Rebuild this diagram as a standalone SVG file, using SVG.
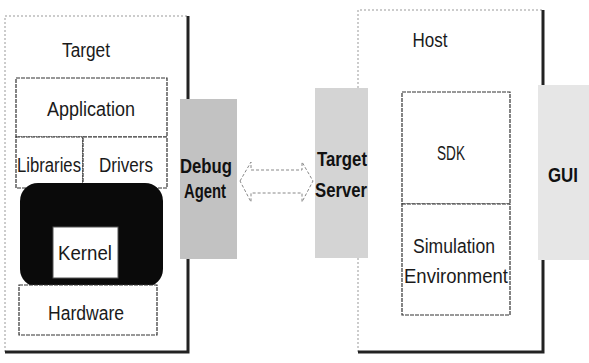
<svg xmlns="http://www.w3.org/2000/svg" width="589" height="363" viewBox="0 0 589 363">
  <style>
    .lbl { font-family: "Liberation Sans", Arial, sans-serif; font-size: 20px; fill: #1a1a1a; text-anchor: middle; }
    .bold { font-weight: bold; fill: #111; }
    .faint { fill: none; stroke: #999; stroke-width: 1; stroke-dasharray: 2 2; }
    .shadow { fill: none; stroke: #222; stroke-width: 3; }
    .cell { fill: #fff; stroke: #333; stroke-width: 1.2; stroke-dasharray: 4 1; }
    .agent { fill: #c2c2c2; }
    .server { fill: #d4d4d4; }
    .gui { fill: #e6e6e6; }
    .link { fill: none; stroke: #888; stroke-width: 1; stroke-dasharray: 3 2; }
  </style>
  <rect width="589" height="363" fill="#fff"/>

  <!-- Target machine frame -->
  <g id="target">
    <path class="faint" d="M5 352 V16 H188"/>
    <path class="shadow" d="M188 16 V352 H5"/>
    <text class="lbl" x="86" y="57" textLength="48" lengthAdjust="spacingAndGlyphs">Target</text>
  </g>

  <g id="application">
    <rect class="cell" x="16" y="78" width="151" height="59"/>
    <text class="lbl" x="91" y="116" textLength="88" lengthAdjust="spacingAndGlyphs">Application</text>
  </g>

  <g id="libraries">
    <rect class="cell" x="16" y="137" width="67" height="51"/>
    <text class="lbl" x="49" y="172" textLength="64" lengthAdjust="spacingAndGlyphs">Libraries</text>
  </g>

  <g id="drivers">
    <rect class="cell" x="83" y="137" width="84" height="51"/>
    <text class="lbl" x="126" y="172" textLength="54" lengthAdjust="spacingAndGlyphs">Drivers</text>
  </g>

  <g id="kernel">
    <rect x="20" y="183" width="143" height="104" rx="18" fill="#0a0a0a"/>
    <rect x="53" y="227" width="65" height="51" fill="#fff" stroke="#555" stroke-width="1"/>
    <text class="lbl" x="85" y="260" textLength="54" lengthAdjust="spacingAndGlyphs">Kernel</text>
  </g>

  <g id="hardware">
    <rect class="cell" x="19" y="285" width="138" height="50"/>
    <text class="lbl" x="86" y="320" textLength="76" lengthAdjust="spacingAndGlyphs">Hardware</text>
  </g>

  <g id="debug-agent">
    <rect class="agent" x="180" y="99" width="57" height="160"/>
    <text class="lbl bold" x="206" y="173" textLength="52" lengthAdjust="spacingAndGlyphs">Debug</text>
    <text class="lbl bold" x="205" y="198" textLength="42" lengthAdjust="spacingAndGlyphs">Agent</text>
  </g>

  <!-- Host machine frame -->
  <g id="host">
    <path class="faint" d="M358 352 V10 H543"/>
    <path class="shadow" d="M543 10 V352 H358"/>
    <text class="lbl" x="430" y="47" textLength="35" lengthAdjust="spacingAndGlyphs">Host</text>
  </g>

  <g id="target-server">
    <rect class="server" x="315" y="88" width="53" height="170"/>
    <text class="lbl bold" x="342" y="166" textLength="50" lengthAdjust="spacingAndGlyphs">Target</text>
    <text class="lbl bold" x="341" y="197" textLength="52" lengthAdjust="spacingAndGlyphs">Server</text>
  </g>

  <g id="sdk">
    <rect class="cell" x="402" y="92" width="108" height="112"/>
    <text class="lbl" x="451" y="160" textLength="28" lengthAdjust="spacingAndGlyphs">SDK</text>
  </g>

  <g id="simulation">
    <rect class="cell" x="402" y="204" width="108" height="111"/>
    <text class="lbl" x="454" y="253" textLength="82" lengthAdjust="spacingAndGlyphs">Simulation</text>
    <text class="lbl" x="456" y="283" textLength="104" lengthAdjust="spacingAndGlyphs">Environment</text>
  </g>

  <g id="gui">
    <rect class="gui" x="538" y="85" width="51" height="175"/>
    <text class="lbl bold" x="563" y="182" textLength="30" lengthAdjust="spacingAndGlyphs">GUI</text>
  </g>

  <!-- Two-way link between debug agent and target server -->
  <g id="connectors">
    <path class="link" d="M240 181 L251 162 V170 H302 V162 L313 181 L302 202 V193 H251 V202 Z"/>
  </g>
</svg>
